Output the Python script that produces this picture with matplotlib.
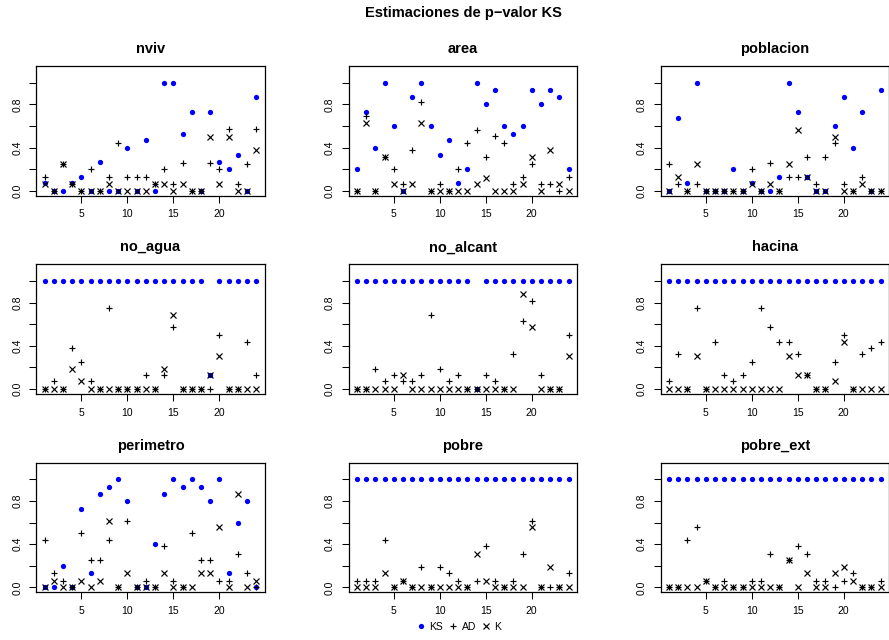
import matplotlib
matplotlib.use("Agg")
import matplotlib.pyplot as plt
from matplotlib.lines import Line2D
import numpy as np

plt.rcParams['font.family'] = ['Liberation Sans', 'DejaVu Sans']

# Bloques / observaciones 1..24
idx = np.arange(1, 25)

variables = ["nviv", "area", "poblacion",
             "no_agua", "no_alcant", "hacina",
             "perimetro", "pobre", "pobre_ext"]

# p-valores por variable: Kolmogorov-Smirnov (KS), Anderson-Darling (AD), Kuiper (K)
nviv_ks = [0.07, 0, 0, 0.07, 0.13, 0, 0.27, 0, 0, 0.40, 0, 0.47, 0, 1.0, 1.0, 0.53, 0.73, 0, 0.73, 0.27, 0.20, 0.33, 0, 0.87]
nviv_ad = [0.13, 0, 0.25, 0.06, 0, 0.20, 0, 0.13, 0.44, 0.13, 0.13, 0.13, 0.06, 0.20, 0.06, 0.26, 0, 0, 0.26, 0.20, 0.57, 0.06, 0.25, 0.57]
nviv_k = [0.06, 0, 0.25, 0.06, 0, 0, 0, 0.06, 0, 0, 0, 0, 0.06, 0.06, 0, 0.06, 0, 0, 0.50, 0.06, 0.50, 0, 0, 0.38]

area_ks = [0.20, 0.73, 0.40, 1.0, 0.60, 0, 0.87, 1.0, 0.60, 0.33, 0.47, 0.07, 0.20, 1.0, 0.80, 0.93, 0.60, 0.53, 0.60, 0.93, 0.80, 0.93, 0.87, 0.20]
area_ad = [0, 0.69, 0, 0.31, 0.20, 0.06, 0.38, 0.82, 0, 0.06, 0, 0.20, 0.44, 0.56, 0.31, 0.51, 0.44, 0.06, 0.13, 0.25, 0.06, 0.06, 0, 0.13]
area_k = [0, 0.63, 0, 0.31, 0.06, 0, 0.06, 0.63, 0, 0, 0, 0, 0, 0.06, 0.12, 0, 0, 0, 0.06, 0.31, 0, 0.38, 0.06, 0]

poblacion_ks = [0, 0.67, 0.07, 1.0, 0, 0, 0, 0.20, 0, 0.07, 0, 0, 0.13, 1.0, 0.73, 0.13, 0, 0, 0.60, 0.87, 0.40, 0.73, 0, 0.93]
poblacion_ad = [0.25, 0.06, 0, 0.06, 0, 0, 0, 0, 0, 0.20, 0, 0.26, 0, 0.13, 0.13, 0.31, 0.06, 0.31, 0.44, 0.06, 0, 0.13, 0, 0]
poblacion_k = [0, 0.13, 0, 0.25, 0, 0, 0, 0, 0, 0.06, 0, 0.06, 0, 0.25, 0.56, 0.13, 0, 0, 0.50, 0, 0, 0.06, 0, 0]

no_agua_ks = [1, 1, 1, 1, 1, 1, 1, 1, 1, 1, 1, 1, 1, 1, 1, 1, 1, 1, 0.13, 1, 1, 1, 1, 1]
no_agua_ad = [0, 0.07, 0, 0.38, 0.25, 0.07, 0, 0.75, 0, 0, 0, 0.13, 0, 0.13, 0.57, 0, 0, 0, 0, 0.50, 0, 0, 0.44, 0.13]
no_agua_k = [0, 0, 0, 0.19, 0.07, 0, 0, 0, 0, 0, 0, 0, 0, 0.19, 0.69, 0, 0, 0, 0.13, 0.31, 0, 0, 0, 0]

no_alcant_ks = [1, 1, 1, 1, 1, 1, 1, 1, 1, 1, 1, 1, 1, 0, 1, 1, 1, 1, 1, 1, 1, 1, 1, 1]
no_alcant_ad = [0, 0, 0.19, 0.07, 0.13, 0.07, 0.07, 0.13, 0.69, 0.19, 0.07, 0.13, 0, 0, 0.13, 0.07, 0, 0.32, 0.63, 0.82, 0.13, 0, 0, 0.50]
no_alcant_k = [0, 0, 0, 0, 0, 0.13, 0, 0, 0, 0, 0, 0, 0, 0, 0, 0, 0, 0, 0.88, 0.57, 0, 0, 0, 0.31]

hacina_ks = [1] * 24
hacina_ad = [0.07, 0.32, 0, 0.75, 0, 0.44, 0.13, 0.07, 0.13, 0.25, 0.75, 0.57, 0.44, 0.44, 0.32, 0.13, 0, 0, 0.25, 0.50, 0, 0.32, 0.38, 0.44]
hacina_k = [0, 0, 0, 0.31, 0, 0, 0, 0, 0, 0, 0, 0, 0, 0.31, 0.13, 0.13, 0, 0, 0.07, 0.44, 0, 0, 0, 0]

perimetro_ks = [0, 0, 0.20, 0, 0.73, 0.13, 0.87, 0.93, 1.0, 0.80, 0, 0, 0.40, 0.87, 1.0, 0.93, 1.0, 0.93, 0.80, 1.0, 0.13, 0.60, 0.80, 0]
perimetro_ad = [0.44, 0.13, 0.06, 0, 0.50, 0.25, 0.25, 0.44, 0, 0.62, 0, 0.06, 0, 0.38, 0.06, 0, 0.50, 0.25, 0.25, 0.06, 0.06, 0.31, 0.13, 0]
perimetro_k = [0, 0.06, 0, 0, 0.06, 0, 0.06, 0.62, 0, 0.13, 0, 0, 0, 0.13, 0, 0, 0, 0.13, 0.13, 0.56, 0, 0.87, 0, 0.06]

pobre_ks = [1] * 24
pobre_ad = [0.06, 0.06, 0.06, 0.44, 0, 0.06, 0, 0.19, 0, 0.19, 0.13, 0.06, 0, 0.06, 0.38, 0.06, 0, 0.06, 0.31, 0.62, 0, 0, 0, 0.13]
pobre_k = [0, 0, 0, 0.13, 0, 0.06, 0, 0, 0, 0, 0, 0, 0, 0.31, 0.06, 0, 0, 0, 0, 0.56, 0, 0.19, 0, 0]

pobre_ext_ks = [1] * 24
pobre_ext_ad = [0, 0, 0.44, 0.56, 0.06, 0, 0.06, 0, 0, 0.06, 0.06, 0.31, 0, 0.25, 0.38, 0.31, 0.06, 0.06, 0, 0.06, 0.13, 0, 0, 0.06]
pobre_ext_k = [0, 0, 0, 0, 0.06, 0, 0, 0, 0, 0, 0, 0, 0, 0.25, 0, 0.13, 0, 0, 0.13, 0.19, 0.06, 0, 0, 0]

series = {
    "nviv": (nviv_ks, nviv_ad, nviv_k),
    "area": (area_ks, area_ad, area_k),
    "poblacion": (poblacion_ks, poblacion_ad, poblacion_k),
    "no_agua": (no_agua_ks, no_agua_ad, no_agua_k),
    "no_alcant": (no_alcant_ks, no_alcant_ad, no_alcant_k),
    "hacina": (hacina_ks, hacina_ad, hacina_k),
    "perimetro": (perimetro_ks, perimetro_ad, perimetro_k),
    "pobre": (pobre_ks, pobre_ad, pobre_k),
    "pobre_ext": (pobre_ext_ks, pobre_ext_ad, pobre_ext_k),
}

xticks = [5, 10, 15, 20]
yticks = [0.0, 0.2, 0.4, 0.6, 0.8, 1.0]
ytick_labels = ["0.0", "", "0.4", "", "0.8", ""]
legend_labels = ["KS", "AD", "K"]

W, H = 889, 640
fig = plt.figure(figsize=(W / 100, H / 100), dpi=100)

col_left = [36.2, 348.5, 660.5]
row_top = [66.0, 264.3, 462.7]
pw, ph = 228.5, 129.5

ks_style = dict(linestyle="none", marker="o", markersize=3.8, color="#0000FF", markeredgewidth=0)
ad_style = dict(linestyle="none", marker="+", markersize=5.0, color="black", markeredgewidth=0.85)
k_style = dict(linestyle="none", marker="x", markersize=4.0, color="black", markeredgewidth=0.85)

for i, name in enumerate(variables):
    r, c = divmod(i, 3)
    ax = fig.add_axes([col_left[c] / W, 1 - (row_top[r] + ph) / H, pw / W, ph / H])
    ks, ad, k = series[name]
    ax.plot(idx, ks, **ks_style)
    ax.plot(idx, ad, **ad_style)
    ax.plot(idx, k, **k_style)
    ax.set_xlim(0.08, 24.92)
    ax.set_ylim(-0.0444, 1.1556)
    ax.set_xticks(xticks)
    ax.set_yticks(yticks)
    ax.set_yticklabels(ytick_labels)
    for lab in ax.get_yticklabels():
        lab.set_rotation(90)
        lab.set_va("center")
    ax.tick_params(direction="out", length=5, width=0.75, labelsize=7.5, pad=5, colors="black")
    for sp in ax.spines.values():
        sp.set_linewidth(0.9)
    ax.set_title(name, fontsize=10.5, fontweight="bold", pad=9.4)

fig.text(463 / W, 1 - 17 / H, "Estimaciones de p\u2212valor KS", ha="center", va="baseline",
         fontsize=10.5, fontweight="bold")

handles = [Line2D([], [], **ks_style), Line2D([], [], **ad_style), Line2D([], [], **k_style)]
fig.legend(handles, legend_labels, loc="center", bbox_to_anchor=(459 / W, 1 - 627 / H),
           ncol=3, frameon=False, fontsize=7.5, handlelength=0.8, handletextpad=0.4,
           columnspacing=0.6, borderpad=0, borderaxespad=0)

fig.savefig("out.png", dpi=100)
